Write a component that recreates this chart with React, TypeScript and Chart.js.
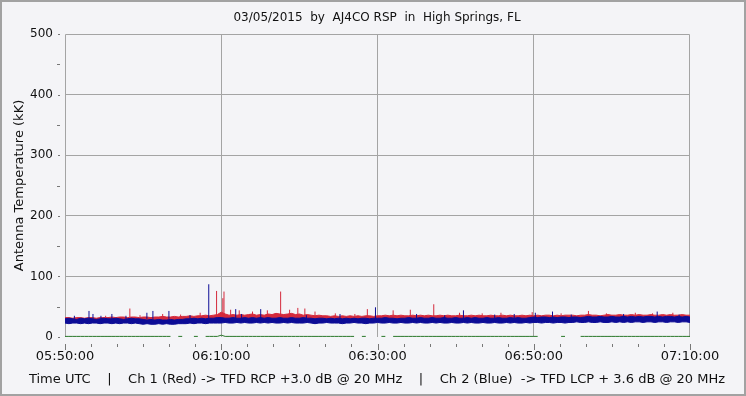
import React, { useEffect, useRef } from "react";
import { Chart, registerables } from "chart.js";

Chart.register(...registerables);

// ---------- text ----------
const titleText = "03/05/2015  by  AJ4CO RSP  in  High Springs, FL";
const yAxisTitle = "Antenna Temperature (kK)";
const footerText =
  "Time UTC    |    Ch 1 (Red) -> TFD RCP +3.0 dB @ 20 MHz    |    Ch 2 (Blue)  -> TFD LCP + 3.6 dB @ 20 MHz";

// ---------- axes ----------
const xMajorMinutes = [0, 20, 40, 60, 80]; // minutes after 05:50:00
const xTickLabels = ["05:50:00", "06:10:00", "06:30:00", "06:50:00", "07:10:00"];
const xMinorPerMajor = 6;
const yMin = 0;
const yMax = 500;
const yMinorStep = 25;
const yMajorStep = 100;

// ---------- data (one sample every 0.5 min, 05:50 .. 07:10) ----------
const sampleStepMin = 0.5;

// Ch 2 (blue) band upper edge
const blueHi = [
  30, 31, 30, 29, 31, 30, 31, 30, 29, 30,
  31, 30, 30, 31, 30, 29, 30, 31, 30, 30,
  29, 28, 29, 28, 29, 28, 28, 29, 28, 29,
  29, 30, 30, 31, 30, 31, 30, 31, 31, 32,
  32, 31, 31, 32, 31, 31, 32, 31, 32, 31,
  32, 31, 32, 31, 31, 32, 31, 31, 32, 31,
  31, 32, 31, 31, 30, 31, 31, 30, 31, 30,
  31, 30, 31, 30, 31, 30, 31, 31, 30, 31,
  31, 31, 32, 31, 31, 30, 31, 31, 32, 31,
  31, 32, 31, 31, 32, 31, 31, 32, 31, 31,
  32, 31, 31, 32, 31, 32, 31, 31, 32, 31,
  31, 32, 31, 31, 32, 31, 32, 31, 31, 32,
  33, 32, 33, 33, 32, 33, 32, 33, 33, 32,
  33, 33, 32, 33, 34, 33, 33, 34, 33, 33,
  34, 33, 33, 34, 33, 34, 33, 34, 33, 34,
  34, 33, 34, 33, 34, 34, 33, 34, 33, 34, 33,
];

// Ch 2 (blue) band lower edge
const blueLo = [
  23, 22, 23, 23, 22, 23, 22, 23, 23, 22,
  23, 23, 22, 23, 22, 23, 23, 22, 23, 22,
  21, 22, 21, 21, 22, 21, 22, 21, 21, 22,
  22, 22, 23, 22, 23, 23, 22, 23, 23, 23,
  23, 24, 23, 23, 24, 23, 24, 23, 23, 24,
  23, 24, 23, 24, 23, 23, 24, 23, 24, 23,
  23, 23, 24, 23, 22, 23, 23, 24, 23, 23,
  23, 22, 23, 23, 24, 23, 23, 22, 23, 23,
  24, 23, 23, 24, 23, 23, 24, 23, 23, 24,
  23, 24, 23, 23, 24, 23, 24, 23, 23, 24,
  23, 23, 24, 23, 24, 23, 23, 24, 23, 23,
  24, 23, 23, 24, 23, 24, 23, 23, 24, 23,
  24, 24, 23, 24, 24, 23, 24, 24, 23, 24,
  24, 25, 24, 24, 25, 24, 24, 25, 24, 24,
  25, 24, 25, 24, 25, 24, 25, 25, 24, 25,
  25, 24, 25, 25, 24, 25, 25, 24, 25, 25, 24,
];

// Ch 1 (red) band upper edge
const redHi = [
  32, 32, 31, 32, 32, 31, 32, 32, 31, 32,
  32, 32, 33, 32, 33, 33, 32, 33, 33, 32,
  33, 33, 32, 33, 33, 34, 33, 33, 34, 33,
  34, 34, 35, 34, 35, 35, 36, 35, 36, 37,
  41, 38, 36, 37, 36, 37, 36, 37, 38, 36,
  37, 36, 38, 37, 39, 38, 37, 38, 39, 37,
  38, 36, 37, 36, 35, 36, 35, 35, 34, 35,
  34, 35, 34, 35, 34, 35, 34, 35, 35, 34,
  35, 35, 36, 35, 36, 35, 36, 35, 35, 36,
  35, 36, 35, 36, 35, 35, 36, 35, 36, 35,
  35, 36, 35, 35, 36, 35, 36, 35, 35, 36,
  35, 35, 36, 35, 36, 35, 35, 36, 35, 36,
  35, 36, 35, 36, 36, 35, 36, 35, 36, 36,
  36, 35, 36, 36, 37, 36, 36, 35, 36, 37,
  36, 36, 37, 36, 36, 37, 36, 37, 36, 36,
  37, 36, 36, 37, 36, 37, 36, 36, 37, 36, 36,
];
const redFloor = 26;

// green trace near zero (null = no sample drawn)
const greenTrace = [
  1, 1, 1, 1, 1, 1, 1, 1, 1, 1,
  1, 1, 1, 1, 1, 1, 1, 1, 1, 1,
  1, 1, 1, 1, 1, 1, 1, 1, null, 1,
  1, null, null, 1, 1, null, 1, 1, 1, 1,
  3, 1, 1, 1, 1, 1, 1, 1, 1, 1,
  1, 1, 1, 1, 1, 1, 1, 1, 1, 1,
  1, 1, 1, 1, 1, 1, 1, 1, 1, 1,
  1, 1, 1, 1, 1, null, 1, 1, null, null,
  null, 1, 1, null, 1, 1, 1, 1, 1, 1,
  1, 1, 1, 1, 1, 1, 1, 1, 1, 1,
  1, 1, 1, 1, 1, 1, 1, 1, 1, 1,
  1, 1, 1, 1, 1, 1, 1, 1, 1, 1,
  1, 1, null, null, null, null, null, 1, 1, null,
  null, null, 1, 1, 1, 1, 1, 1, 1, 1,
  1, 1, 1, 1, 1, 1, 1, 1, 1, 1,
  1, 1, 1, 1, 1, 1, 1, 1, 1, 1, 1,
];

// isolated spikes (minute, peak value)
const blueSpikeMin = [
  1.2, 3.07, 3.58, 4.6, 6.0, 7.8, 10.48, 11.25, 13.3, 16.0, 18.4, 21.85, 22.6, 25.05, 30.9, 35.2,
  39.74, 45.0, 48.6, 51.0, 55.0, 57.5, 60.2, 62.4, 64.8, 71.5, 75.8, 78.6,
];
const blueSpikeVal = [
  35, 43, 38, 35, 38, 35, 40, 43, 43, 36, 87, 46, 38, 46, 36, 38,
  49, 38, 36, 44, 37, 38, 40, 42, 37, 38, 42, 37,
];
const blueSpikeBase = 30;
const redSpikeMin = [
  5.2, 8.3, 9.6, 12.5, 14.8, 17.3, 19.4, 20.2, 20.35, 21.2, 22.3, 24.0, 25.9, 27.6, 28.75, 29.8,
  30.7, 32.0, 34.6, 37.1, 38.7, 42.0, 44.2, 47.2, 50.5, 53.4, 55.8, 59.8, 63.5, 67.0, 69.3, 73.0,
  75.2, 77.8,
];
const redSpikeVal = [
  35, 47, 36, 38, 37, 40, 76, 64, 75, 45, 44, 42, 44, 75, 45, 48,
  47, 42, 39, 38, 46, 44, 45, 54, 40, 39, 40, 41, 39, 43, 39, 40,
  39, 40,
];
const redSpikeBase = 33;

const BLUE = "#0c0c96";
const RED = "#d42a3c";
const GREEN = "#2a782a";
const GRID = "#a4a4a4";

export default function App() {
  const ref = useRef<HTMLCanvasElement>(null);

  useEffect(() => {
    document.body.style.margin = "0";
    const canvas = ref.current;
    if (!canvas) return;

    const times = blueHi.map((_, i) => i * sampleStepMin);
    const series = (arr: (number | null)[]) => arr.map((v, i) => ({ x: times[i], y: v }));
    const spikes = (ts: number[], vs: number[], base: number) => {
      const out: { x: number; y: number | null }[] = [];
      ts.forEach((t, i) => {
        out.push({ x: t, y: base });
        out.push({ x: t, y: vs[i] });
        out.push({ x: t, y: null });
      });
      return out;
    };

    const majorStep = xMajorMinutes[1] - xMajorMinutes[0];
    const lastMajor = xMajorMinutes[xMajorMinutes.length - 1];
    const xTickVals: number[] = [];
    for (let i = 0; (i * majorStep) / xMinorPerMajor <= lastMajor + 1e-9; i++) xTickVals.push((i * majorStep) / xMinorPerMajor);

    const frame = {
      id: "frame",
      beforeDraw(chart: any) {
        const { ctx, width, height } = chart;
        ctx.save();
        ctx.fillStyle = "#f4f4f7";
        ctx.fillRect(0, 0, width, height);
        ctx.strokeStyle = "#a2a2a2";
        ctx.lineWidth = 2;
        ctx.strokeRect(1, 1, width - 2, height - 2);
        ctx.restore();
      },
      beforeDatasetsDraw(chart: any) {
        const { ctx, chartArea: a } = chart;
        ctx.save();
        ctx.strokeStyle = GRID;
        ctx.lineWidth = 1;
        ctx.beginPath();
        ctx.moveTo(a.left + 0.5, a.bottom);
        ctx.lineTo(a.left + 0.5, a.top + 0.5);
        ctx.lineTo(a.right - 0.5, a.top + 0.5);
        ctx.lineTo(a.right - 0.5, a.bottom);
        ctx.stroke();
        ctx.restore();
      },
      afterDraw(chart: any) {
        const { ctx, chartArea: a, scales } = chart;
        ctx.save();
        ctx.strokeStyle = "#777";
        ctx.lineWidth = 1;
        scales.x.ticks.forEach((tk: any, i: number) => {
          const px = Math.round(scales.x.getPixelForValue(tk.value)) + 0.5;
          const major = i % xMinorPerMajor === 0;
          ctx.beginPath();
          ctx.moveTo(px, a.bottom + 7);
          ctx.lineTo(px, a.bottom + (major ? 13 : 10));
          ctx.stroke();
        });
        scales.y.ticks.forEach((tk: any) => {
          const py = Math.round(scales.y.getPixelForValue(tk.value)) + 0.5;
          const major = tk.value % yMajorStep === 0;
          ctx.beginPath();
          ctx.moveTo(a.left - (major ? 7 : 8), py);
          ctx.lineTo(a.left - 5, py);
          ctx.stroke();
        });
        ctx.restore();
      },
    };

    const lineBase = { pointRadius: 0, borderWidth: 1, tension: 0, spanGaps: false };

    const chart = new Chart(canvas, {
      type: "line",
      data: {
        datasets: [
          { ...lineBase, data: spikes(blueSpikeMin, blueSpikeVal, blueSpikeBase), borderColor: BLUE },
          { ...lineBase, data: series(blueHi), borderColor: BLUE, backgroundColor: BLUE, fill: "+1" },
          { ...lineBase, data: series(blueLo), borderColor: BLUE },
          { ...lineBase, data: spikes(redSpikeMin, redSpikeVal, redSpikeBase), borderColor: RED },
          { ...lineBase, data: series(redHi), borderColor: RED, backgroundColor: RED, fill: { value: redFloor } },
          { ...lineBase, data: series(greenTrace), borderColor: GREEN },
        ] as any,
      },
      options: {
        responsive: false,
        animation: false,
        devicePixelRatio: 1,
        events: [],
        layout: { padding: { left: 8, right: 0, top: 0, bottom: 0 } },
        plugins: {
          legend: { display: false },
          tooltip: { enabled: false },
          title: {
            display: true,
            text: titleText,
            color: "#111",
            font: { family: "DejaVu Sans", size: 12, weight: "normal", lineHeight: 1 },
            padding: { top: 12, bottom: 10 },
          },
          subtitle: {
            display: true,
            position: "bottom",
            text: footerText,
            color: "#111",
            font: { family: "DejaVu Sans", size: 13, weight: "normal", lineHeight: 1 },
            padding: { top: 0, bottom: 10 },
          },
        },
        scales: {
          x: {
            type: "linear",
            min: xMajorMinutes[0],
            max: lastMajor,
            offset: false,
            afterBuildTicks: (s: any) => {
              s.ticks = xTickVals.map((v) => ({ value: v }));
            },
            afterFit: (s: any) => {
              s.height = 36;
            },
            grid: {
              drawTicks: false,
              color: (c: any) => {
                const v = c.tick ? c.tick.value : -1;
                const idx = xMajorMinutes.indexOf(v);
                return idx > 0 && idx < xMajorMinutes.length - 1 ? GRID : "transparent";
              },
            },
            border: { display: false },
            ticks: {
              autoSkip: false,
              maxRotation: 0,
              padding: 12,
              color: "#111",
              font: { family: "DejaVu Sans", size: 13 },
              callback: (v: any) => {
                const idx = xMajorMinutes.indexOf(Number(v));
                return idx >= 0 ? xTickLabels[idx] : "";
              },
            },
          },
          y: {
            type: "linear",
            min: yMin,
            max: yMax,
            afterFit: (s: any) => {
              s.width = 57;
            },
            grid: {
              drawTicks: false,
              color: (c: any) => {
                const v = c.tick ? c.tick.value : -1;
                return v > yMin && v < yMax && v % yMajorStep === 0 ? GRID : "transparent";
              },
            },
            border: { display: false },
            ticks: {
              stepSize: yMinorStep,
              padding: 12,
              color: "#111",
              font: { family: "DejaVu Sans", size: 12 },
              callback: (v: any) => (Number(v) % yMajorStep === 0 ? String(v) : ""),
            },
            title: {
              display: true,
              text: yAxisTitle,
              color: "#111",
              font: { family: "DejaVu Sans", size: 13, lineHeight: 1 },
              padding: { top: 5.5, bottom: 0 },
            },
          },
          yRightSpace: {
            type: "linear",
            position: "right",
            display: true,
            min: yMin,
            max: yMax,
            afterFit: (s: any) => {
              s.width = 56;
            },
            grid: { display: false, drawTicks: false },
            border: { display: false },
            ticks: { display: false },
          },
        },
      } as any,
      plugins: [frame],
    });

    return () => chart.destroy();
  }, []);

  return <canvas ref={ref} width={746} height={396} style={{ display: "block" }} />;
}
